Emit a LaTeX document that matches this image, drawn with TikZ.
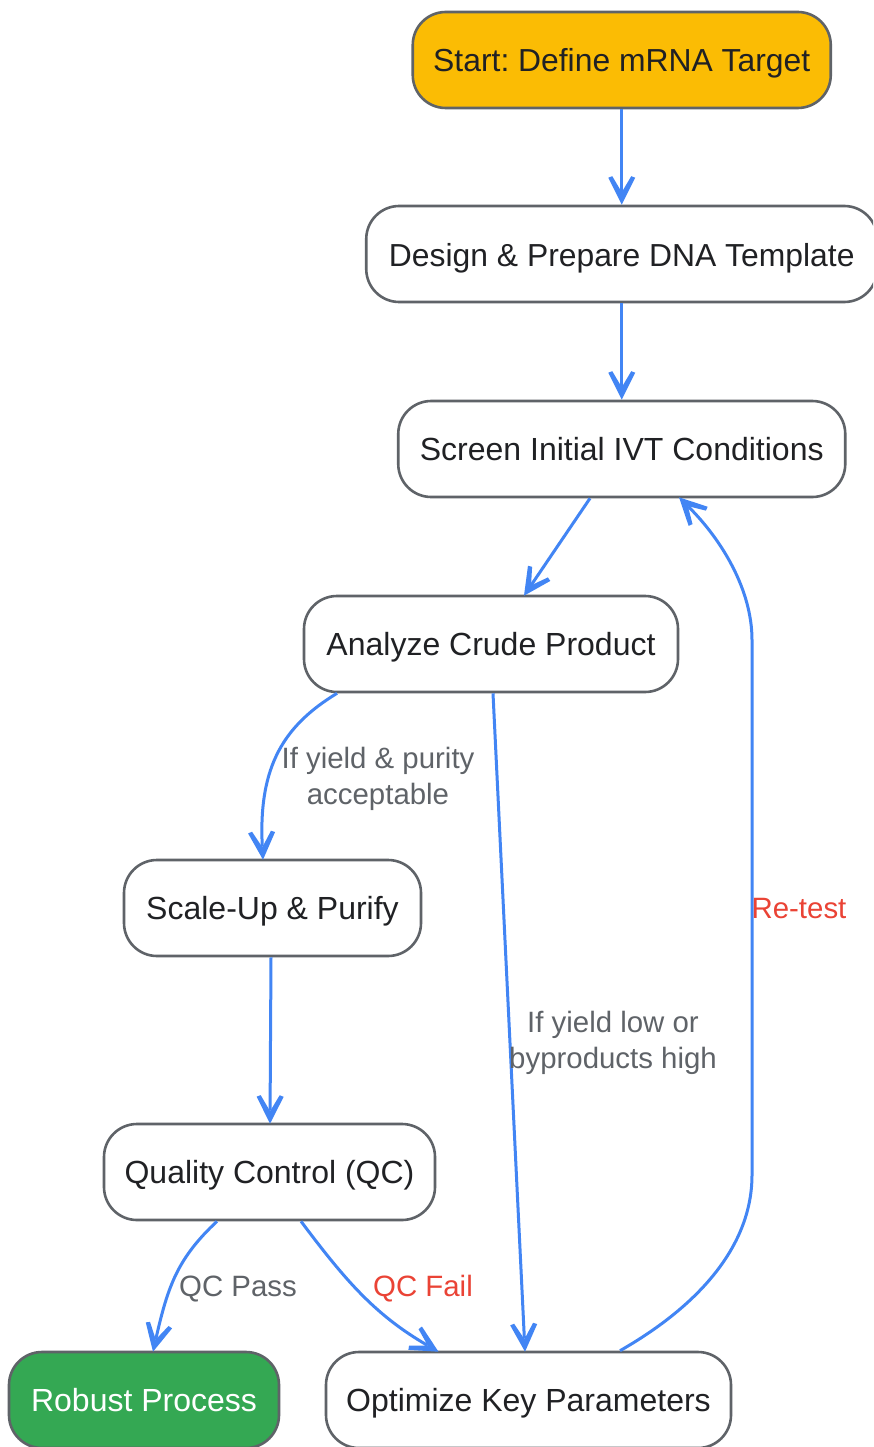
\documentclass[tikz,border=0pt]{standalone}
\usepackage{fontspec}
\setmainfont[Kerning=On]{Liberation Sans}
\usetikzlibrary{arrows.meta}
\frenchspacing
\definecolor{edgeblue}{HTML}{4285F4}
\definecolor{bordergray}{HTML}{5F6368}
\definecolor{inkdark}{HTML}{202124}
\definecolor{alertred}{HTML}{EA4335}
\definecolor{startyellow}{HTML}{FBBC04}
\definecolor{passgreen}{HTML}{34A853}
\pgfdeclarearrow{
  name=FlowVee,
  setup code={
    \pgfarrowssettipend{28pt}
    \pgfarrowssetlineend{15pt}
    \pgfarrowssetbackend{0pt}
    \pgfarrowssetvisualbackend{0pt}
    \pgfarrowshullpoint{28pt}{0pt}
    \pgfarrowshullpoint{0pt}{13.5pt}
    \pgfarrowshullpoint{0pt}{-13.5pt}
  },
  drawing code={
    \pgfsetfillcolor{edgeblue}
    \pgfpathmoveto{\pgfqpoint{28pt}{0pt}}
    \pgfpathlineto{\pgfqpoint{1pt}{13.5pt}}
    \pgfpathlineto{\pgfqpoint{-0.5pt}{9.5pt}}
    \pgfpathlineto{\pgfqpoint{15.5pt}{0pt}}
    \pgfpathlineto{\pgfqpoint{-0.5pt}{-9.5pt}}
    \pgfpathlineto{\pgfqpoint{1pt}{-13.5pt}}
    \pgfpathclose
    \pgfusepathqfill
  }
}
\tikzset{
  stepbox/.style={draw=bordergray,line width=2.6pt,fill=white,rounded corners=33pt,inner sep=0pt,minimum height=96pt,text=inkdark,text height=29pt,text depth=7pt,font=\fontsize{32}{38}\selectfont},
  tightbox/.style={stepbox,font=\fontsize{31.85}{38}\selectfont},
  flow/.style={draw=edgeblue,line width=3pt,-{FlowVee}},
  edgetext/.style={text=bordergray,inner sep=0pt,align=center,font=\fontsize{29.4}{36}\selectfont},
  onelabel/.style={edgetext,text height=24pt,text depth=4pt},
  failtext/.style={onelabel,text=alertred}
}
\begin{document}
\begin{tikzpicture}[x=1pt,y=-1pt]
\useasboundingbox (0,0) rectangle (873,1447);
\clip (0,0) rectangle (873,1447);
\fill[white] (0,0) rectangle (873,1447);
\node[tightbox,fill=startyellow,text depth=5pt,minimum width=418pt] (start) at (621.75,60) {Start: Define mRNA Target};
\node[tightbox,text depth=4pt,minimum width=511pt] (design) at (621.75,254) {Design \& Prepare DNA Template};
\node[stepbox,minimum width=447pt] (screen) at (621.75,449) {Screen Initial IVT Conditions};
\node[stepbox,minimum width=374pt] (analyze) at (491,644) {Analyze Crude Product};
\node[stepbox,minimum width=297pt] (scale) at (272.5,908) {Scale-Up \& Purify};
\node[stepbox,minimum width=331pt] (qc) at (269.5,1172) {Quality Control (QC)};
\node[stepbox,fill=passgreen,text=white,minimum width=270pt] (robust) at (144,1400) {Robust Process};
\node[stepbox,minimum width=405pt] (optimize) at (528.5,1400) {Optimize Key Parameters};

\draw[flow] (start.south) -- (design.north);
\draw[flow] (design.south) -- (screen.north);
\draw[flow] ([xshift=-31.75pt]screen.south) -- ([xshift=33pt,yshift=-1pt]analyze.north);
\draw[flow] ([xshift=-154pt]analyze.south) .. controls (285,725) and (258,765) .. ([xshift=-9.5pt,yshift=-1pt]scale.north);
\draw[flow] ([xshift=2pt]analyze.south) -- ([xshift=-3.5pt,yshift=-1pt]optimize.north);
\draw[flow] ([xshift=-1.5pt]scale.south) -- ([xshift=.5pt,yshift=-1pt]qc.north);
\draw[flow] ([xshift=-52.5pt]qc.south) .. controls (178,1258) and (168,1285) .. ([xshift=9pt,yshift=-1pt]robust.north);
\draw[flow] ([xshift=31.5pt]qc.south) .. controls (345,1280) and (375,1315) .. ([xshift=-90pt,yshift=-1pt]optimize.north);
\draw[flow] ([xshift=91.5pt]optimize.north) .. controls (700,1305) and (752,1245) .. (752,1175) -- (752,640) .. controls (752,590) and (722,540) .. ([xshift=57.25pt,yshift=1pt]screen.south);

\node[edgetext] (lblaccept) at (378,779) {If yield \& purity\\acceptable};
\node[edgetext] (lbllow) at (613,1043) {If yield low or\\byproducts high};
\node[failtext] (lblretest) at (799,908) {Re-test};
\node[onelabel] (lblpass) at (238,1286) {QC Pass};
\node[failtext] (lblfail) at (423,1286) {QC Fail};
\end{tikzpicture}
\end{document}
